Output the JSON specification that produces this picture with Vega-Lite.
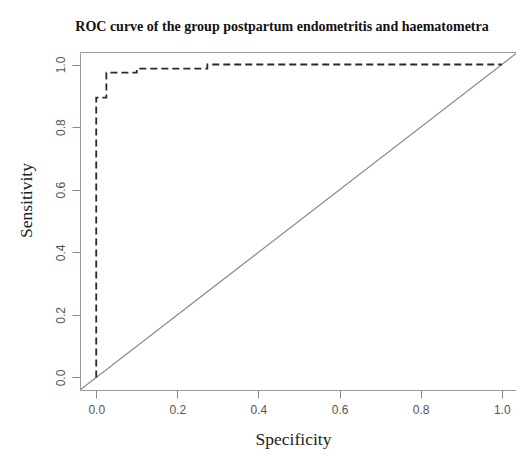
{
  "$schema": "https://vega.github.io/schema/vega-lite/v6.json",
  "autosize": "none",
  "padding": {"left": 80, "top": 52, "right": 0, "bottom": 65},
  "width": 438,
  "height": 338,
  "background": "white",
  "title": {
    "text": "ROC curve of the group postpartum endometritis and haematometra",
    "font": "Liberation Serif",
    "fontSize": 14,
    "fontWeight": "bold",
    "color": "#111",
    "anchor": "middle",
    "frame": "group",
    "baseline": "alphabetic",
    "offset": 7,
    "dx": -17
  },
  "config": {
    "view": {"stroke": "#999", "strokeWidth": 1},
    "axis": {
      "grid": false,
      "domain": false,
      "tickColor": "#888",
      "tickSize": 8,
      "labelFont": "Liberation Sans",
      "labelFontSize": 12,
      "labelColor": "#555",
      "titleFont": "Liberation Serif",
      "titleFontSize": 17.5,
      "titleFontWeight": "normal",
      "titleColor": "#222"
    }
  },
  "datasets": {
    "roc": [
      {"step": 1, "specificity": 0.0, "sensitivity": 0.0},
      {"step": 2, "specificity": 0.0, "sensitivity": 0.894},
      {"step": 3, "specificity": 0.025, "sensitivity": 0.894},
      {"step": 4, "specificity": 0.025, "sensitivity": 0.974},
      {"step": 5, "specificity": 0.1, "sensitivity": 0.974},
      {"step": 6, "specificity": 0.1, "sensitivity": 0.987},
      {"step": 7, "specificity": 0.274, "sensitivity": 0.987},
      {"step": 8, "specificity": 0.274, "sensitivity": 1.0},
      {"step": 9, "specificity": 1.0, "sensitivity": 1.0}
    ],
    "diag": [
      {"step": 1, "specificity": -0.04, "sensitivity": -0.04},
      {"step": 2, "specificity": 1.04, "sensitivity": 1.04}
    ]
  },
  "layer": [
    {
      "data": {"name": "diag"},
      "mark": {"type": "line", "color": "#888", "strokeWidth": 1.2, "clip": true},
      "encoding": {
        "x": {
          "field": "specificity", "type": "quantitative",
          "scale": {"domain": [-0.04, 1.04], "nice": false, "zero": false},
          "axis": {
            "title": "Specificity",
            "values": [0, 0.2, 0.4, 0.6, 0.8, 1.0],
            "format": ".1f",
            "labelPadding": 6,
            "labelBaseline": "top",
            "titleX": 213,
            "titleY": 54,
            "titleBaseline": "alphabetic",
            "titleAlign": "center"
          }
        },
        "y": {
          "field": "sensitivity", "type": "quantitative",
          "scale": {"domain": [-0.04, 1.04], "nice": false, "zero": false},
          "axis": {
            "title": "Sensitivity",
            "values": [0, 0.2, 0.4, 0.6, 0.8, 1.0],
            "format": ".1f",
            "labelAngle": 270,
            "labelAlign": "center",
            "labelBaseline": "bottom",
            "labelPadding": 5,
            "titleAngle": 270,
            "titleX": -49,
            "titleY": 148,
            "titleBaseline": "alphabetic",
            "titleAlign": "center"
          }
        },
        "order": {"field": "step"}
      }
    },
    {
      "data": {"name": "roc"},
      "mark": {"type": "line", "color": "#2a2a2a", "strokeWidth": 1.8, "strokeDash": [7, 4], "clip": true},
      "encoding": {
        "x": {"field": "specificity", "type": "quantitative"},
        "y": {"field": "sensitivity", "type": "quantitative"},
        "order": {"field": "step"}
      }
    }
  ]
}
